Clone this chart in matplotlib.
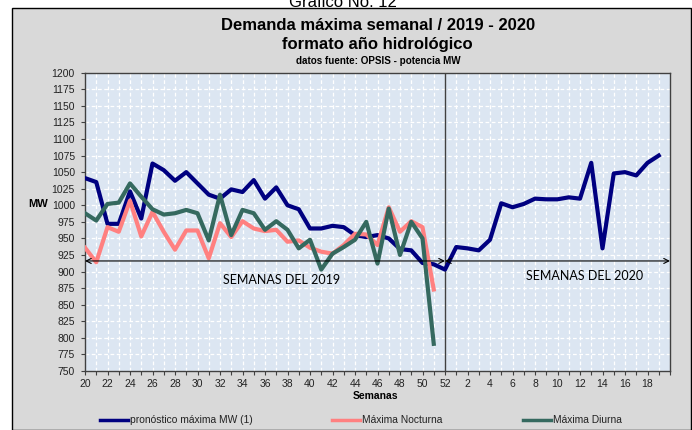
import matplotlib
matplotlib.use('Agg')
import matplotlib.pyplot as plt
from matplotlib.patches import Rectangle
from matplotlib.lines import Line2D

# ---------------- data ----------------
week_categories = list(range(20, 53)) + list(range(1, 21))
tick_labels = ["20", "22", "24", "26", "28", "30", "32", "34", "36", "38", "40",
               "42", "44", "46", "48", "50", "52", "2", "4", "6", "8", "10",
               "12", "14", "16", "18"]

pronostico = [1041, 1035, 972, 972, 1021, 980, 1063, 1053, 1037, 1050, 1033,
              1016, 1010, 1024, 1020, 1038, 1010, 1027, 1000, 994, 965, 965,
              969, 967, 955, 952, 955, 950, 934, 932, 913, 911, 903,
              937, 935, 932, 948, 1003, 997, 1002, 1010, 1009, 1009, 1012,
              1010, 1064, 935, 1048, 1050, 1045, 1064, 1075]

nocturna = [936, 914, 967, 960, 1007, 953, 990, 960, 933, 962, 962, 920, 973,
            952, 976, 965, 961, 963, 945, 947, 936, 930, 927, 940, 957, 956,
            940, 997, 960, 976, 967, 873]

diurna = [988, 977, 1002, 1004, 1033, 1013, 994, 986, 988, 993, 988, 947,
          1016, 955, 993, 988, 963, 976, 963, 935, 948, 903, 927, 937, 948,
          975, 912, 995, 925, 975, 950, 791]

y_ticks = list(range(750, 1201, 25))
limite_semanas = 916      # level of the arrows
corte_anio = 32           # index of week 52

series_names = ["pronóstico máxima MW (1)", "Máxima Nocturna", "Máxima Diurna"]
series_colors = ["#000080", "#FF8080", "#35695F"]

# ---------------- figure ----------------
W, H = 692, 430
fig = plt.figure(figsize=(W / 100, H / 100), dpi=100)
fig.patch.set_facecolor('white')

def fx(px):
    return px / W

def fy(py):
    return 1 - py / H

fig.add_artist(Rectangle((fx(12), 0), fx(691) - fx(12), fy(8), transform=fig.transFigure,
                         facecolor='#D9D9D9', edgecolor='black', lw=1.0, zorder=0))

fig.text(fx(343), fy(7), "Gráfico No. 12", ha='center', va='baseline',
         fontsize=12, family='Liberation Sans', color='black')

ax = fig.add_axes([fx(85), fy(371), fx(670) - fx(85), fy(72.7) - fy(371)])
ax.set_facecolor('#DCE6F2')
ax.set_xlim(0, len(week_categories) - 1)
ax.set_ylim(750, 1200)

ax.set_yticks(y_ticks)
ax.set_yticklabels([str(v) for v in y_ticks])
major_x = list(range(0, 2 * len(tick_labels), 2))
ax.set_xticks(major_x)
ax.set_xticklabels(tick_labels)
ax.set_xticks(range(len(week_categories)), minor=True)

ax.grid(True, which='both', axis='x', color='white', linestyle=(0, (3, 2)), linewidth=0.9)
ax.grid(True, which='major', axis='y', color='white', linestyle=(0, (3, 2)), linewidth=0.9)
ax.set_axisbelow(True)

for s in ax.spines.values():
    s.set_color('#404040')
    s.set_linewidth(1.0)

ax.tick_params(axis='x', which='both', direction='out', length=3, width=0.8,
               color='#404040', pad=3)
ax.tick_params(axis='x', labelsize=7.5, labelcolor='#222222')
ax.tick_params(axis='y', which='major', direction='out', length=3, width=0.8,
               color='#404040', pad=4.3, labelsize=7.5, labelcolor='#222222')
for lab in ax.get_xticklabels() + ax.get_yticklabels():
    lab.set_family('Liberation Sans')

# lines
ax.plot(range(len(pronostico)), pronostico, color=series_colors[0], lw=3,
        solid_joinstyle='round', zorder=3)
ax.plot(range(len(nocturna)), nocturna, color=series_colors[1], lw=3,
        solid_joinstyle='round', zorder=4)
ax.plot(range(len(diurna)), diurna, color=series_colors[2], lw=3,
        solid_joinstyle='round', zorder=5)

# year separator and arrows
ax.axvline(corte_anio, color='#404040', lw=1.0, zorder=2)
arrow_kw = dict(arrowstyle='<->', color='black', lw=0.8, shrinkA=0, shrinkB=0,
                mutation_scale=9)
ax.annotate('', xy=(0, limite_semanas), xytext=(corte_anio, limite_semanas),
            arrowprops=arrow_kw, zorder=6)
ax.annotate('', xy=(corte_anio, limite_semanas), xytext=(len(week_categories) - 1, limite_semanas),
            arrowprops=arrow_kw, zorder=6)
ax.text(17.5, 888, "SEMANAS DEL 2019", ha='center', va='center', fontsize=9,
        family='Lato', color='black', zorder=7)
ax.text(44.4, 893, "SEMANAS DEL 2020", ha='center', va='center', fontsize=9,
        family='Lato', color='black', zorder=7)

# titles
fig.text(fx(378), fy(26), "Demanda máxima semanal / 2019 - 2020", ha='center', va='center',
         fontsize=12, fontweight='bold', family='Liberation Sans')
fig.text(fx(377), fy(45), "formato año hidrológico", ha='center', va='center',
         fontsize=12, fontweight='bold', family='Liberation Sans')
fig.text(fx(378), fy(61), "datos fuente: OPSIS - potencia MW", ha='center', va='center',
         fontsize=7.1, fontweight='bold', family='Liberation Sans')

fig.text(fx(38), fy(204), "MW", ha='center', va='center', fontsize=8, fontweight='bold',
         family='Liberation Sans')
fig.text(fx(375), fy(396), "Semanas", ha='center', va='center', fontsize=7.5,
         fontweight='bold', family='Liberation Sans')

# legend (manual)
legend_x = [100, 332, 523]
for name, col, x0 in zip(series_names, series_colors, legend_x):
    fig.add_artist(Line2D([fx(x0), fx(x0 + 28)], [fy(420), fy(420)], color=col, lw=2.5,
                          transform=fig.transFigure))
    fig.text(fx(x0 + 30), fy(420), name, ha='left', va='center', fontsize=7.4,
             family='Liberation Sans', color='#222222')

fig.savefig('out.png', dpi=100, facecolor=fig.get_facecolor())
